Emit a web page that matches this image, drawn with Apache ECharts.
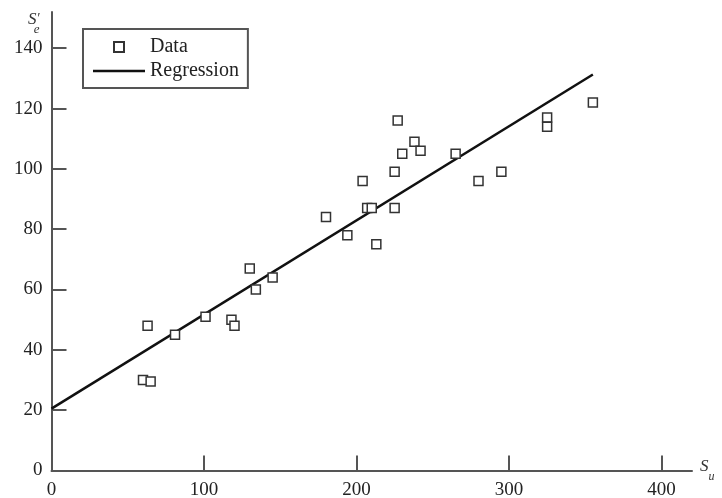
<!DOCTYPE html>
<html><head><meta charset="utf-8">
<script src="https://cdn.jsdelivr.net/npm/echarts@6/dist/echarts.min.js"></script>
<style>html,body{margin:0;padding:0;background:#fff}#c{width:722px;height:498px}</style>
</head><body><div id="c"></div>
<script>
const dataSu = [60, 63, 65, 81, 101, 118, 120, 130, 134, 145, 180, 194, 204, 207, 210, 213, 225, 225, 227, 230, 238, 242, 265, 280, 295, 325, 325, 355];
const dataSe = [30, 48, 29.5, 45, 51, 50, 48, 67, 60, 64, 84, 78, 96, 87, 87, 75, 99, 87, 116, 105, 109, 106, 105, 96, 99, 117, 114, 122];
const regSu = [0, 355];
const regSe = [20.5, 131.3];
const xTicks = [0, 100, 200, 300, 400];
const yTicks = [0, 20, 40, 60, 80, 100, 120, 140];

const font = 'Liberation Serif';
const chart = echarts.init(document.getElementById('c'), null, {renderer: 'canvas'});
chart.setOption({
  animation: false,
  backgroundColor: '#fff',
  grid: {left: 51.5, right: 30, top: 12, bottom: 27.5, containLabel: false, outerBoundsMode: 'none'},
  legend: {
    left: 83, top: 29, orient: 'vertical',
    padding: [8, 9, 7, 10], itemGap: 4,
    itemWidth: 52, itemHeight: 10,
    borderColor: '#555', borderWidth: 2, backgroundColor: '#fff',
    textStyle: {fontFamily: font, fontSize: 20, color: '#222'},
    data: [
      {name: 'Data', icon: 'path://M0,0H10V10H0Z'},
      {name: 'Regression', icon: 'path://M0,0H52V2.5H0Z', itemStyle: {color: '#111', borderWidth: 0}}
    ]
  },
  xAxis: {
    type: 'value', min: 0, max: 420,
    name: '{s|S}{sub|u}', nameLocation: 'end', nameGap: 8,
    nameTextStyle: {rich: {
      s: {fontFamily: font, fontStyle: 'italic', fontSize: 17, color: '#333', verticalAlign: 'top'},
      sub: {fontFamily: font, fontStyle: 'italic', fontSize: 12, color: '#333', verticalAlign: 'bottom', padding: [12, 0, 0, 0]}
    }},
    axisLine: {show: true, lineStyle: {color: '#555', width: 2}},
    axisTick: {show: true, inside: true, length: 15, customValues: xTicks, lineStyle: {color: '#555', width: 2}},
    axisLabel: {customValues: xTicks, fontFamily: font, fontSize: 19, color: '#222', margin: 10},
    splitLine: {show: false}
  },
  yAxis: {
    type: 'value', min: 0, max: 152,
    name: '{s|S}{p|′}\n{e|e}', nameLocation: 'end', nameGap: 0,
    nameTextStyle: {align: 'right', verticalAlign: 'top', padding: [1, 12, 0, 0], rich: {
      s: {fontFamily: font, fontStyle: 'italic', fontSize: 17, color: '#333', lineHeight: 13},
      p: {fontFamily: font, fontStyle: 'italic', fontSize: 14, color: '#333', lineHeight: 13},
      e: {fontFamily: font, fontStyle: 'italic', fontSize: 13, color: '#333', lineHeight: 7, padding: [0, 0, 0, 11]}
    }},
    axisLine: {show: true, lineStyle: {color: '#555', width: 2}},
    axisTick: {show: true, inside: true, length: 15, customValues: yTicks, lineStyle: {color: '#555', width: 2}},
    axisLabel: {customValues: yTicks, fontFamily: font, fontSize: 19, color: '#222', margin: 9},
    splitLine: {show: false}
  },
  series: [
    {
      name: 'Regression', type: 'line', z: 2,
      data: regSu.map((v, i) => [v, regSe[i]]),
      symbol: 'none', showSymbol: false,
      lineStyle: {color: '#111', width: 2.5},
      itemStyle: {color: '#111'}
    },
    {
      name: 'Data', type: 'scatter', z: 3,
      data: dataSu.map((v, i) => [v, dataSe[i]]),
      symbol: 'rect', symbolSize: 9,
      itemStyle: {color: '#fff', borderColor: '#333', borderWidth: 1.5, opacity: 1}
    }
  ]
});
</script>
</body></html>
